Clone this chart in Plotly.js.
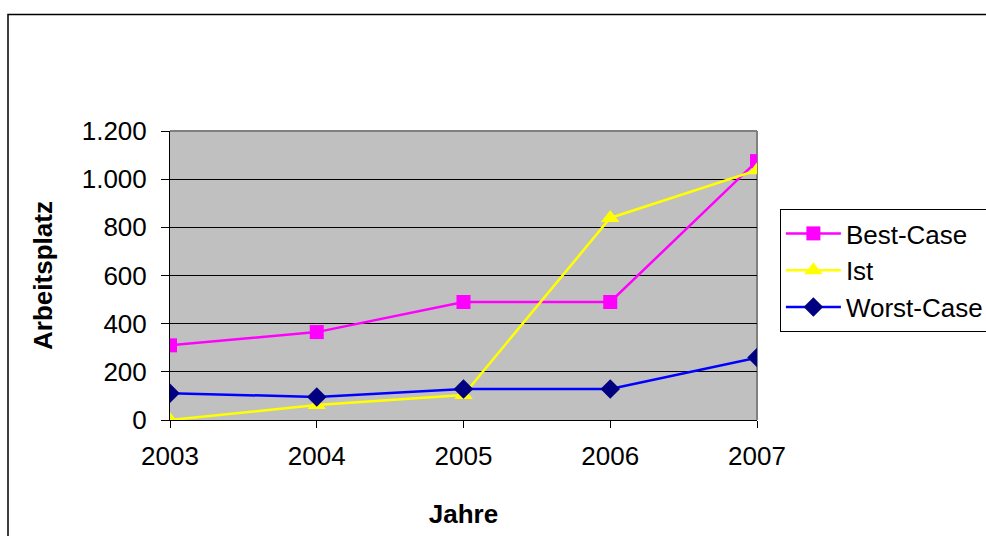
<!DOCTYPE html>
<html>
<head>
<meta charset="utf-8">
<script src="https://cdn.plot.ly/plotly-3.0.1.min.js"></script>
<style>
  html, body { margin: 0; padding: 0; background: #fff; }
  #chart { width: 986px; height: 536px; }
</style>
</head>
<body>
<div id="chart"></div>
<script>
const years = [2003, 2004, 2005, 2006, 2007];
const bestCase = [310, 365, 490, 490, 1075];
const ist = [0, 62, 104, 839, 1037];
const worstCase = [111, 96, 129, 129, 259];
const yTicks = [0, 200, 400, 600, 800, 1000, 1200];

const font = 'Arial, "Liberation Sans", sans-serif';
const fs = 26;

const traces = [
  { x: years, y: bestCase, name: 'Best-Case', mode: 'lines+markers',
    line: { color: '#FF00FF', width: 2.5 },
    marker: { symbol: 'square', size: 14, color: '#FF00FF' } },
  { x: years, y: ist, name: 'Ist', mode: 'lines+markers',
    line: { color: '#FFFF00', width: 2.5 },
    marker: { symbol: 'triangle-up', size: 16, color: '#FFFF00' } },
  { x: years, y: worstCase, name: 'Worst-Case', mode: 'lines+markers',
    line: { color: '#0000FF', width: 2.5 },
    marker: { symbol: 'diamond', size: 15, color: '#000080' } }
];

const layout = {
  width: 986, height: 536,
  margin: { l: 170, r: 229, t: 131, b: 116, autoexpand: false },
  paper_bgcolor: '#FFFFFF',
  plot_bgcolor: '#C0C0C0',
  separators: ',.',
  font: { family: font, size: fs, color: '#000' },
  showlegend: true,
  legend: {
    x: 1.039, xanchor: 'left', y: 1 - (209 - 131) / 289, yanchor: 'top',
    bordercolor: '#000', borderwidth: 1, bgcolor: '#FFFFFF',
    font: { family: font, size: fs, color: '#000' },
    itemwidth: 55, tracegroupgap: 0
  },
  xaxis: {
    type: 'linear', range: [2003, 2007], tickvals: years, ticktext: years.map(String),
    showgrid: false, zeroline: false, showline: true, linecolor: '#000', linewidth: 1,
    ticks: 'outside', ticklen: 7, tickcolor: '#000', tickwidth: 1,
    ticklabelstandoff: 6,
    tickfont: { family: font, size: fs, color: '#000' },
    title: { text: '<b>Jahre</b>', font: { family: font, size: fs, color: '#000' }, standoff: 34 },
    automargin: false, fixedrange: true
  },
  yaxis: {
    range: [0, 1200], tickvals: yTicks, tickformat: ',d',
    showgrid: true, gridcolor: '#000', gridwidth: 1,
    zeroline: false, showline: true, linecolor: '#000', linewidth: 1,
    ticks: 'outside', ticklen: 8, tickcolor: '#000', tickwidth: 1,
    ticklabelstandoff: 9,
    tickfont: { family: font, size: fs, color: '#000' },
    title: { text: '<b>Arbeitsplatz</b>', font: { family: font, size: fs, color: '#000' }, standoff: 21 },
    automargin: false, fixedrange: true
  },
  shapes: [
    { type: 'line', xref: 'paper', yref: 'paper', x0: 0, x1: 1, y0: 1, y1: 1,
      line: { color: '#808080', width: 2 }, layer: 'above' },
    { type: 'line', xref: 'paper', yref: 'paper', x0: 1, x1: 1, y0: 0, y1: 1,
      line: { color: '#808080', width: 2 }, layer: 'below' },
    { type: 'rect', xref: 'paper', yref: 'paper',
      x0: (8 - 170) / 587, x1: 2, y0: -1, y1: 1 + (131 - 14.5) / 289,
      line: { color: '#000', width: 1.5 }, fillcolor: 'rgba(0,0,0,0)', layer: 'above' }
  ]
};

Plotly.newPlot('chart', traces, layout, { staticPlot: true, displayModeBar: false });
</script>
</body>
</html>
